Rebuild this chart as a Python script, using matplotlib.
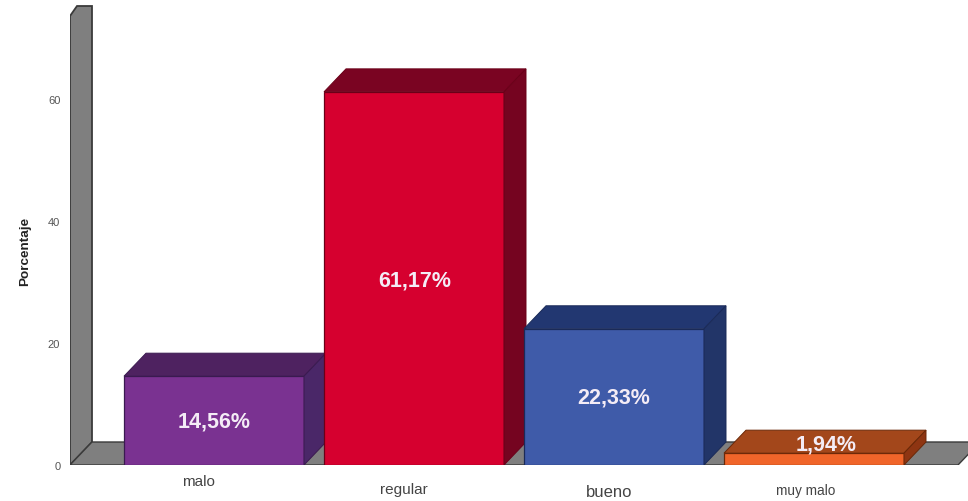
import matplotlib
matplotlib.use("Agg")
import matplotlib.pyplot as plt
from matplotlib.patches import Polygon
from matplotlib.transforms import ScaledTranslation

plt.rcParams['font.family'] = ['Liberation Sans', 'DejaVu Sans']

categories = ["malo", "regular", "bueno", "muy malo"]
values = [14.56, 61.17, 22.33, 1.94]
value_labels = ["14,56%", "61,17%", "22,33%", "1,94%"]
front_colors = ["#7A3291", "#D6002F", "#3F5BA9", "#F0652A"]
top_colors = ["#4E2260", "#7A0422", "#223771", "#A3471B"]
side_colors = ["#4A2768", "#750420", "#223568", "#8E3512"]
edge_colors = ["#3A1A50", "#6A0018", "#1A2A58", "#6A2808"]
y_ticks = [0, 20, 40, 60]

W, H = 968, 502
X0, Y0 = 70, 466        # axes origin in pixels
PX_X, PX_Y = 200.0, 6.1 # pixels per x unit / per y unit
C0 = 214                # pixel centre of first bar

fig = plt.figure(figsize=(W / 100, H / 100), dpi=100, facecolor="white")
ax = fig.add_axes([X0 / W, (H - Y0) / H, (W - X0) / W, Y0 / H])
ax.set_xlim((X0 - C0) / PX_X, (W - C0) / PX_X)
ax.set_ylim(0, Y0 / PX_Y)
ax.patch.set_visible(False)
for s in ax.spines.values():
    s.set_visible(False)

xmin = ax.get_xlim()[0]
dx, dy = 22 / PX_X, 23 / PX_Y
bar_w = 0.9

# wall and floor
gray, dark = "#7F7F7F", "#3A3A3A"
wall_top_front = (Y0 - 17) / PX_Y
wall_top_back = (Y0 - 7) / PX_Y
ax.add_patch(Polygon([(xmin, 0), (xmin + dx, dy), (xmin + dx, wall_top_back),
                      (xmin + 7 / PX_X, wall_top_back), (xmin, wall_top_front)],
                     closed=True, fc=gray, ec=dark, lw=1.3, zorder=1))
floor_right = (958 - C0) / PX_X
ax.add_patch(Polygon([(xmin, 0), (xmin + dx, dy), (floor_right + dx, dy), (floor_right, 0)],
                     closed=True, fc=gray, ec=dark, lw=1.0, zorder=1, clip_on=True))

centers = list(range(len(values)))
for i, v in enumerate(values):
    ax.bar(i, v, width=bar_w, color=front_colors[i], edgecolor=edge_colors[i], lw=0.9, zorder=3 + i)
    l, r = i - bar_w / 2, i + bar_w / 2
    ax.add_patch(Polygon([(l, v), (l + dx, v + dy), (r + dx, v + dy), (r, v)], closed=True,
                         fc=top_colors[i], ec=edge_colors[i], lw=0.7, zorder=3 + i))
    ax.add_patch(Polygon([(r, 0), (r + dx, dy), (r + dx, v + dy), (r, v)], closed=True,
                         fc=side_colors[i], ec=edge_colors[i], lw=0.7, zorder=3 + i))

# value labels (pixel offsets from bar centre, y in data units)
label_dx = [0, 0.5, 0, 12]
label_y = [7.2, 30.3, 11.1, 3.4]
for i, t in enumerate(value_labels):
    ax.text(i + label_dx[i] / PX_X, label_y[i], t, color="#F4ECF6", fontsize=15.5, fontweight="bold",
            ha="center", va="center", zorder=20)

# axis ticks
ax.set_yticks(y_ticks)
ax.set_yticklabels([str(t) for t in y_ticks])
ax.tick_params(axis="y", length=0, pad=7, labelsize=8, labelcolor="#555555")
ax.set_xticks(centers)
ax.set_xticklabels(categories)
ax.tick_params(axis="x", length=0, pad=0, labelsize=11, labelcolor="#444444")
shift_x = [-16, -10, -5, -8]
shift_y = [-9, -17, -19, -18]
label_sizes = [11, 11, 12, 9.8]
for lab, sx, sy, fs in zip(ax.get_xticklabels(), shift_x, shift_y, label_sizes):
    lab.set_fontsize(fs)
    lab.set_transform(lab.get_transform() + ScaledTranslation(sx / 100, sy / 100, fig.dpi_scale_trans))

ax.set_ylabel("Porcentaje", fontsize=9.7, fontweight="bold", color="#222222")
ax.yaxis.set_label_coords((31 - X0) / (W - X0), (Y0 - 251) / Y0)

fig.savefig("out.png", dpi=100, facecolor="white")
